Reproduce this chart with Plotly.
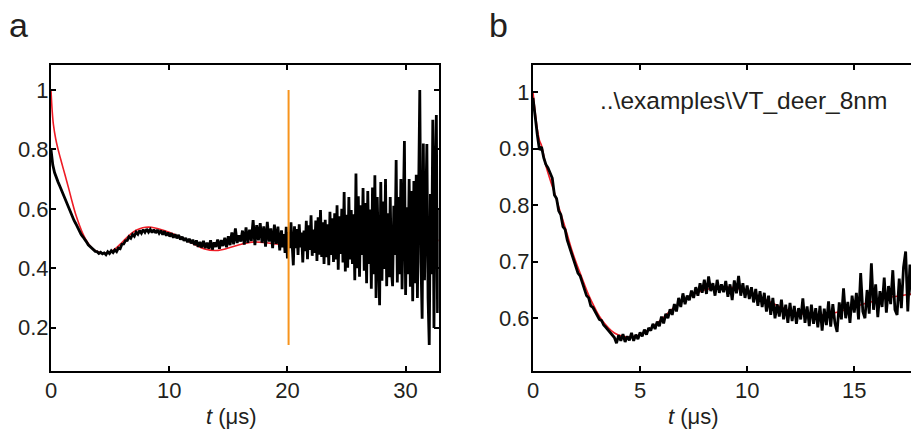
import plotly.graph_objects as go

# ---------------- data: panel a ----------------
# part 1: t = 0 ... 19.35 us, step 0.15 us
dt_a1 = 0.15
sig_a1 = [
    0.800, 0.748, 0.722, 0.703, 0.690, 0.676, 0.661, 0.646, 0.634, 0.618,
    0.603, 0.589, 0.575, 0.561, 0.550, 0.537, 0.527, 0.514, 0.506, 0.495,
    0.489, 0.479, 0.474, 0.466, 0.463, 0.457, 0.456, 0.450, 0.454, 0.449,
    0.452, 0.446, 0.456, 0.450, 0.459, 0.453, 0.462, 0.456, 0.468, 0.466,
    0.481, 0.482, 0.493, 0.494, 0.506, 0.501, 0.514, 0.508, 0.522, 0.515,
    0.527, 0.518, 0.530, 0.521, 0.532, 0.522, 0.531, 0.520, 0.530, 0.519,
    0.529, 0.518, 0.527, 0.513, 0.525, 0.510, 0.520, 0.507, 0.518, 0.503,
    0.514, 0.501, 0.512, 0.497, 0.506, 0.493, 0.502, 0.488, 0.499, 0.484,
    0.496, 0.478, 0.494, 0.472, 0.489, 0.470, 0.492, 0.468, 0.486, 0.466,
    0.494, 0.463, 0.487, 0.472, 0.497, 0.466, 0.495, 0.475, 0.503, 0.471,
    0.508, 0.478, 0.521, 0.481, 0.534, 0.485, 0.511, 0.490, 0.527, 0.480,
    0.538, 0.486, 0.530, 0.492, 0.562, 0.478, 0.545, 0.494, 0.552, 0.486,
    0.541, 0.473, 0.556, 0.490, 0.534, 0.468, 0.547, 0.482, 0.540, 0.460,
]
# part 2: t = 19.5 ... 32.9 us, step 0.1 us
t0_a2 = 19.5
dt_a2 = 0.1
sig_a2 = [
    0.528, 0.470, 0.515, 0.452, 0.540, 0.433, 0.522, 0.468, 0.555, 0.462,
    0.410, 0.541, 0.468, 0.532, 0.445, 0.548, 0.470, 0.520, 0.420, 0.527,
    0.458, 0.560, 0.431, 0.545, 0.462, 0.578, 0.442, 0.530, 0.452, 0.561,
    0.425, 0.572, 0.446, 0.596, 0.438, 0.555, 0.415, 0.563, 0.437, 0.548,
    0.410, 0.590, 0.445, 0.568, 0.421, 0.585, 0.430, 0.612, 0.395, 0.575,
    0.448, 0.600, 0.420, 0.657, 0.389, 0.580, 0.402, 0.640, 0.430, 0.596,
    0.415, 0.582, 0.360, 0.719, 0.400, 0.642, 0.372, 0.612, 0.445, 0.670,
    0.392, 0.620, 0.350, 0.660, 0.415, 0.598, 0.331, 0.672, 0.380, 0.713,
    0.300, 0.640, 0.402, 0.276, 0.690, 0.358, 0.625, 0.398, 0.700, 0.340,
    0.585, 0.370, 0.640, 0.392, 0.340, 0.610, 0.445, 0.764, 0.352, 0.640,
    0.380, 0.700, 0.330, 0.640, 0.828, 0.310, 0.605, 0.380, 0.700, 0.338,
    0.660, 0.289, 0.694, 0.350, 0.715, 0.300, 0.640, 1.000, 0.420, 0.230,
    0.820, 0.360, 0.600, 0.818, 0.300, 0.142, 0.650, 0.380, 0.900, 0.199,
    0.700, 0.916, 0.250, 0.600, 0.300,
]
t_a = [round(i * dt_a1, 3) for i in range(len(sig_a1))] + \
      [round(t0_a2 + k * dt_a2, 3) for k in range(len(sig_a2))]
sig_a = sig_a1 + sig_a2

fit_t_a = [0, 0.1, 0.2, 0.4, 0.6, 0.9, 1.2, 1.5, 1.8, 2.1, 2.4, 2.7, 3.0, 3.3,
           3.6, 4.0, 4.5, 5.0, 5.5, 6.0, 6.5, 7.0, 7.5, 8.0, 8.5, 9.0, 9.5, 10,
           11, 12, 13, 14, 15, 16, 17, 18, 19, 20, 21, 22, 24, 26, 28, 30, 32, 32.8]
fit_y_a = [1.0, 0.93, 0.885, 0.835, 0.80, 0.755, 0.712, 0.668, 0.622, 0.580,
           0.546, 0.516, 0.493, 0.476, 0.464, 0.455, 0.451, 0.455, 0.468, 0.487,
           0.507, 0.523, 0.533, 0.538, 0.538, 0.534, 0.528, 0.521, 0.503, 0.483,
           0.465, 0.460, 0.468, 0.480, 0.488, 0.487, 0.482, 0.480, 0.483, 0.487,
           0.492, 0.495, 0.494, 0.492, 0.493, 0.494]

cutoff_t = [20.1, 20.1]
cutoff_y = [0.142, 1.0]

# ---------------- data: panel b ----------------
dt_b = 0.1
sig_b = [
    0.990, 0.955, 0.925, 0.898, 0.903, 0.884, 0.872, 0.866, 0.855, 0.848,
    0.818, 0.812, 0.790, 0.783, 0.762, 0.757, 0.738, 0.727, 0.715, 0.703,
    0.694, 0.680, 0.675, 0.662, 0.653, 0.640, 0.636, 0.622, 0.619, 0.611,
    0.606, 0.598, 0.596, 0.588, 0.584, 0.579, 0.575, 0.570, 0.566, 0.556,
    0.570, 0.560, 0.572, 0.558, 0.568, 0.561, 0.574, 0.560, 0.571, 0.563,
    0.575, 0.568, 0.580, 0.571, 0.583, 0.578, 0.590, 0.581, 0.594, 0.586,
    0.603, 0.591, 0.608, 0.600, 0.616, 0.606, 0.625, 0.612, 0.636, 0.620,
    0.644, 0.625, 0.640, 0.632, 0.649, 0.636, 0.655, 0.640, 0.662, 0.645,
    0.668, 0.643, 0.674, 0.648, 0.662, 0.640, 0.668, 0.645, 0.660, 0.646,
    0.666, 0.638, 0.660, 0.632, 0.667, 0.644, 0.675, 0.640, 0.662, 0.636,
    0.658, 0.634, 0.655, 0.628, 0.652, 0.622, 0.648, 0.620, 0.645, 0.612,
    0.640, 0.606, 0.636, 0.600, 0.625, 0.603, 0.633, 0.598, 0.624, 0.592,
    0.627, 0.595, 0.622, 0.590, 0.618, 0.598, 0.635, 0.592, 0.621, 0.586,
    0.624, 0.590, 0.618, 0.584, 0.622, 0.578, 0.617, 0.588, 0.630, 0.585,
    0.625, 0.591, 0.576, 0.628, 0.598, 0.653, 0.600, 0.629, 0.592, 0.640,
    0.610, 0.645, 0.598, 0.680, 0.612, 0.600, 0.650, 0.608, 0.697, 0.615,
    0.660, 0.602, 0.648, 0.620, 0.672, 0.610, 0.657, 0.625, 0.685, 0.615,
    0.606, 0.670, 0.618, 0.690, 0.718, 0.612, 0.695, 0.640,
]
t_b = [round(i * dt_b, 3) for i in range(len(sig_b))]

fit_t_b = [0, 0.1, 0.2, 0.3, 0.4, 0.6, 0.8, 1.0, 1.2, 1.4, 1.6, 1.8, 2.0, 2.2,
           2.4, 2.6, 2.8, 3.0, 3.2, 3.5, 3.8, 4.2, 4.6, 5.0, 5.5, 6.0, 6.5, 7.0,
           7.5, 8.0, 8.5, 9.0, 9.5, 10.0, 10.5, 11.0, 11.5, 12.0, 12.5, 13.0,
           13.5, 14.0, 14.5, 15.0, 15.5, 16.0, 16.5, 17.0, 17.5, 18.0]
fit_y_b = [1.0, 0.965, 0.935, 0.915, 0.905, 0.870, 0.845, 0.822, 0.797, 0.773,
           0.748, 0.722, 0.700, 0.680, 0.660, 0.641, 0.625, 0.610, 0.598, 0.584,
           0.574, 0.568, 0.567, 0.571, 0.582, 0.598, 0.616, 0.631, 0.643, 0.650,
           0.654, 0.655, 0.653, 0.648, 0.640, 0.630, 0.621, 0.613, 0.608, 0.606,
           0.606, 0.609, 0.614, 0.620, 0.626, 0.631, 0.636, 0.639, 0.642, 0.644]

ticks_x_a = [0, 10, 20, 30]
ticks_y_a = [0.2, 0.4, 0.6, 0.8, 1.0]
ticks_x_b = [0, 5, 10, 15]
ticks_y_b = [0.6, 0.7, 0.8, 0.9, 1.0]
panel_labels = ["a", "b"]
file_label = r"..\examples\VT_deer_8nm"
x_title = "<i>t</i> (μs)"

# ---------------- figure ----------------
W, H = 911, 432
FONT = "Liberation Sans, Arial, Helvetica, sans-serif"
TXT = "#231f20"
RED = "#ee1c25"
ORANGE = "#f7941d"

fig = go.Figure()
fig.add_trace(go.Scatter(x=fit_t_a, y=fit_y_a, mode="lines", line=dict(color=RED, width=1.6, shape="spline"),
                         xaxis="x", yaxis="y", showlegend=False))
fig.add_trace(go.Scatter(x=t_a, y=sig_a, mode="lines", line=dict(color="black", width=2.8),
                         xaxis="x", yaxis="y", showlegend=False))
fig.add_trace(go.Scatter(x=cutoff_t, y=cutoff_y, mode="lines", line=dict(color=ORANGE, width=2),
                         xaxis="x", yaxis="y", showlegend=False))
fig.add_trace(go.Scatter(x=fit_t_b, y=fit_y_b, mode="lines", line=dict(color=RED, width=1.6, shape="spline"),
                         xaxis="x2", yaxis="y2", showlegend=False))
fig.add_trace(go.Scatter(x=t_b, y=sig_b, mode="lines", line=dict(color="black", width=2.8),
                         xaxis="x2", yaxis="y2", showlegend=False))

ax_common = dict(showline=True, linecolor="black", linewidth=2, ticks="inside", ticklen=5,
                 tickwidth=1.5, tickcolor="black", showgrid=False, zeroline=False,
                 automargin=False,
                 tickfont=dict(family=FONT, size=22, color=TXT))

fig.update_layout(
    template="none",
    width=W, height=H,
    margin=dict(l=0, r=0, t=0, b=0, pad=0),
    paper_bgcolor="white", plot_bgcolor="white",
    xaxis=dict(domain=[51 / W, 438.7 / W], range=[0, 32.8], tickvals=ticks_x_a,
               mirror="ticks", anchor="y", ticklabelstandoff=-1, **ax_common),
    yaxis=dict(domain=[1 - 370.7 / H, 1 - 65 / H], range=[0.0555, 1.084], tickvals=ticks_y_a,
               mirror="ticks", anchor="x", ticklabelstandoff=-4, **ax_common),
    xaxis2=dict(domain=[533 / W, 1.0], range=[0, 17.65], tickvals=ticks_x_b,
                mirror="ticks", anchor="y2", ticklabelstandoff=-1, **ax_common),
    yaxis2=dict(domain=[1 - 371 / H, 1 - 65 / H], range=[0.5067, 1.048], tickvals=ticks_y_b,
                mirror=False, anchor="x2", ticklabelstandoff=-3, **ax_common),
)

ann = []
ann.append(dict(text=panel_labels[0], x=7 / W, y=1 - 4 / H, xref="paper", yref="paper",
                xanchor="left", yanchor="top", showarrow=False,
                font=dict(family=FONT, size=34, color=TXT)))
ann.append(dict(text=panel_labels[1], x=487 / W, y=1 - 4 / H, xref="paper", yref="paper",
                xanchor="left", yanchor="top", showarrow=False,
                font=dict(family=FONT, size=34, color=TXT)))
ann.append(dict(text=file_label, x=598 / W, y=1 - 100 / H, xref="paper", yref="paper",
                xanchor="left", yanchor="middle", showarrow=False,
                font=dict(family=FONT, size=24.5, color=TXT)))
ann.append(dict(text=x_title, x=231 / W, y=1 - 416 / H, xref="paper", yref="paper",
                xanchor="center", yanchor="middle", showarrow=False,
                font=dict(family=FONT, size=22, color=TXT)))
ann.append(dict(text=x_title, x=693 / W, y=1 - 416 / H, xref="paper", yref="paper",
                xanchor="center", yanchor="middle", showarrow=False,
                font=dict(family=FONT, size=22, color=TXT)))
fig.update_layout(annotations=ann)

fig.write_html("out.html", config={"displayModeBar": False},
               post_script="document.body.style.margin='0';document.body.style.overflow='hidden';")
